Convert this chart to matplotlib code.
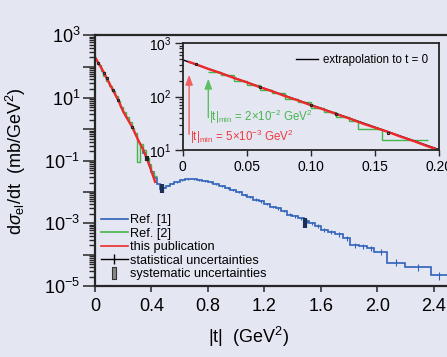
import numpy as np
import matplotlib
matplotlib.use('Agg')
import matplotlib.pyplot as plt
from matplotlib.lines import Line2D
from matplotlib.ticker import FixedLocator, LogLocator, FuncFormatter, NullFormatter

plt.rcParams['font.family'] = ['Liberation Sans', 'DejaVu Sans']
plt.rcParams['mathtext.fontset'] = 'custom'
plt.rcParams['mathtext.rm'] = 'Liberation Sans'
plt.rcParams['mathtext.it'] = 'Liberation Sans:italic'

# -- data
# main panel, this publication
red_t = [0.005, 0.024, 0.064, 0.083, 0.125, 0.165, 0.201, 0.265, 0.307, 0.343, 0.367, 0.39, 0.426]
red_y = [186, 132, 64.5, 42.7, 18.6, 8.5, 3.63, 1.15, 0.447, 0.219, 0.117, 0.063, 0.021]
red_mk_t = [0.024, 0.064, 0.083, 0.125, 0.165, 0.265]
red_mk_y = [132, 64.5, 42.7, 18.6, 8.5, 1.15]

# main panel, Ref. [2] (histogram)
green_edges = [0.02, 0.04, 0.06, 0.08, 0.10, 0.12, 0.14, 0.16, 0.18, 0.20, 0.22,
               0.24, 0.26, 0.28, 0.30, 0.32, 0.34, 0.36, 0.38, 0.40, 0.42, 0.44]
green_vals = [112, 74, 52, 35.5, 25, 16.6, 11.2, 8.3, 5.2, 3.5, 2.5,
              1.66, 1.12, 0.79, 0.089, 0.35, 0.22, 0.126, 0.071, 0.045, 0.032]

# main panel, Ref. [1] (histogram)
blue_edges = [0.32, 0.34, 0.36, 0.38, 0.40, 0.42, 0.44, 0.46, 0.48, 0.50, 0.53, 0.56,
              0.60, 0.64, 0.68, 0.72, 0.76, 0.80, 0.84, 0.88, 0.92, 0.96, 1.00, 1.04,
              1.08, 1.12, 1.16, 1.20, 1.24, 1.28, 1.32, 1.36, 1.40, 1.44, 1.48, 1.52,
              1.56, 1.60, 1.65, 1.70, 1.76, 1.81, 1.87, 1.93, 1.98, 2.07, 2.20, 2.38, 2.50]
blue_vals = [0.282, 0.178, 0.112, 0.0708, 0.0447, 0.0282, 0.0178, 0.0126, 0.0138, 0.0158,
             0.0182, 0.0209, 0.0234, 0.0251, 0.0251, 0.0240, 0.0224, 0.0204, 0.0178, 0.0155,
             0.0135, 0.0115, 0.00977, 0.00832, 0.00692, 0.00575, 0.00501, 0.00417, 0.00339,
             0.00302, 0.00251, 0.00191, 0.00166, 0.00145, 0.00117, 0.00102, 0.000832,
             0.000631, 0.000537, 0.000447, 0.000339, 0.000200, 0.000186, 0.000158,
             0.000123, 5.62e-5, 4.07e-5, 2.19e-5]
blue_relerr = [0.02, 0.02, 0.02, 0.02, 0.03, 0.03, 0.03, 0.04, 0.04, 0.04,
               0.04, 0.04, 0.04, 0.04, 0.04, 0.05, 0.05, 0.05, 0.05, 0.06,
               0.06, 0.06, 0.07, 0.07, 0.07, 0.08, 0.08, 0.08, 0.09, 0.09,
               0.10, 0.10, 0.11, 0.11, 0.12, 0.12, 0.13, 0.14, 0.15, 0.16,
               0.17, 0.18, 0.19, 0.20, 0.22, 0.25, 0.28, 0.30]

# systematic bars (t, low, high)
sys_t = [0.366, 0.473, 1.49]
sys_lo = [0.095, 0.0095, 0.00072]
sys_hi = [0.145, 0.0175, 0.00145]
sys_col = ['#222222', '#1c2f55', '#1c2f55']

# inset
in_red_t = [0.005, 0.01, 0.02, 0.03, 0.04, 0.05, 0.06, 0.07, 0.08, 0.09, 0.10,
            0.11, 0.12, 0.13, 0.14, 0.15, 0.16, 0.17, 0.18, 0.19, 0.197]
in_red_y = [447, 407, 331, 275, 224, 186, 151, 126, 102, 85, 69,
            57.5, 47, 39, 31.6, 26.3, 21.9, 17.8, 14.8, 12.0, 10.5]
in_mk_t = [0.01, 0.06, 0.10, 0.12, 0.16]
in_mk_y = [407, 151, 69, 47, 21.0]
in_green_edges = [0.02, 0.03, 0.04, 0.05, 0.06, 0.07, 0.08, 0.09, 0.10, 0.11, 0.12,
                  0.13, 0.137, 0.1555, 0.1917]
in_green_vals = [295, 251, 200, 166, 135, 115, 91, 78, 62, 52.5, 41.7, 35.5, 24.5, 15.1]
fit_t = [0.0, 0.2]
fit_y = [490, 10.2]

bg = '#e4e6f2'
c_blue = '#2f63b8'
c_green = '#43b649'
c_red = '#ec2a2c'
c_ax = '#262626'

fig = plt.figure(figsize=(4.47, 3.57), dpi=100, facecolor=bg)
ax = fig.add_axes([0.2125, 0.1989, 0.789, 0.702])
ax.set_facecolor('none')
ax.set_yscale('log')
ax.set_xlim(0, 2.5)
ax.set_ylim(1e-5, 1e3)

ax.stairs(blue_vals, blue_edges, color=c_blue, lw=1.2, baseline=None)
bc = 0.5 * (np.array(blue_edges[:-1]) + np.array(blue_edges[1:]))
bv = np.array(blue_vals)
ax.errorbar(bc[8:], bv[8:], yerr=bv[8:] * np.array(blue_relerr[8:]), fmt='none',
            ecolor=c_blue, elinewidth=0.8, capsize=0)
ax.stairs(green_vals, green_edges, color=c_green, lw=1.0, baseline=None)
ax.plot(red_t, red_y, color=c_red, lw=1.7)
ax.plot(red_mk_t, red_mk_y, ls='none', marker='s', ms=2.0, mfc='none', mec='#222222', mew=0.8)
for t, lo, hi, c in zip(sys_t, sys_lo, sys_hi, sys_col):
    ax.vlines(t, lo, hi, color=c, lw=3)

for s in ['left', 'bottom', 'top']:
    ax.spines[s].set_color(c_ax)
    ax.spines[s].set_linewidth(1.6)
ax.spines['right'].set_visible(False)

ax.yaxis.set_major_locator(FixedLocator([10.0 ** k for k in range(-5, 4)]))
ax.yaxis.set_minor_locator(LogLocator(base=10, subs=np.arange(2, 10), numticks=20))
ax.yaxis.set_major_formatter(FuncFormatter(
    lambda v, p: r'$\mathregular{10^{%d}}$' % round(np.log10(v)) if round(np.log10(v)) % 2 else ''))
ax.yaxis.set_minor_formatter(NullFormatter())
ax.set_xticks([0, 0.4, 0.8, 1.2, 1.6, 2.0, 2.4])
ax.set_xticklabels(['0', '0.4', '0.8', '1.2', '1.6', '2.0', '2.4'])
ax.tick_params(axis='y', which='major', length=8.5, width=1.1, color=c_ax, pad=2, labelsize=13)
ax.tick_params(axis='y', which='minor', length=4.3, width=1.0, color=c_ax)
ax.tick_params(axis='x', which='major', length=4.5, width=1.1, color=c_ax, pad=4, labelsize=13)

ax.set_xlabel(r'|t|  (GeV$^2$)', fontsize=13)
ax.xaxis.set_label_coords(0.434, -0.155)
ax.set_ylabel(r'd$\sigma_{\mathregular{el}}$/dt  (mb/GeV$^2$)', fontsize=13)
ax.yaxis.set_label_coords(-0.19, 0.5)

handles = [Line2D([], [], color=c_blue, lw=1.2),
           Line2D([], [], color=c_green, lw=1.2),
           Line2D([], [], color=c_red, lw=1.2),
           Line2D([], [], color='k', lw=1.0, marker='|', ms=7, mew=1.0),
           Line2D([], [], ls='none', marker=[(-1, -4), (1, -4), (1, 4), (-1, 4), (-1, -4)],
                  ms=9, mfc='#888888', mec='#333333', mew=0.8)]
labels = ['Ref. [1]', 'Ref. [2]', 'this publication', 'statistical uncertainties',
          'systematic uncertainties']
ax.legend(handles, labels, loc='lower left', bbox_to_anchor=(0.0, 0.0), frameon=False,
          fontsize=9.2, handlelength=2.1, handletextpad=0.2, labelspacing=0.12,
          borderaxespad=0.25, borderpad=0.2)

# -- inset
ins = fig.add_axes([0.4087, 0.5798, 0.5734, 0.2989])
ins.set_facecolor('none')
ins.set_yscale('log')
ins.set_xlim(0, 0.2)
ins.set_ylim(10, 1000)
ins.plot(fit_t, fit_y, color='k', lw=1.0, label='extrapolation to t = 0')
ins.stairs(in_green_vals, in_green_edges, color=c_green, lw=1.0, baseline=None)
ins.plot(in_red_t, in_red_y, color=c_red, lw=1.7)
ins.plot(in_mk_t, in_mk_y, ls='none', marker='s', ms=2.0, mfc='none', mec='#222222', mew=0.8)

ins.annotate('', xy=(0.005, 290), xytext=(0.005, 17.5),
             arrowprops=dict(arrowstyle='-|>,head_width=0.22,head_length=0.6', color='#f06060', lw=1.0))
ins.annotate('', xy=(0.02, 245), xytext=(0.02, 36),
             arrowprops=dict(arrowstyle='-|>,head_width=0.22,head_length=0.6', color='#5cbf60', lw=1.0))
ins.text(0.0205, 42, r'|t|$_{\mathregular{min}}$ = 2$\times$10$^{-2}$ GeV$^2$', color='#49b54e',
         fontsize=8.3, va='center', ha='left')
ins.text(0.0060, 17.5, r'|t|$_{\mathregular{min}}$ = 5$\times$10$^{-3}$ GeV$^2$', color='#ee3a3c',
         fontsize=8.3, va='center', ha='left')

for s in ins.spines.values():
    s.set_color(c_ax)
    s.set_linewidth(1.3)
ins.yaxis.set_major_locator(FixedLocator([10, 100, 1000]))
ins.yaxis.set_minor_locator(LogLocator(base=10, subs=np.arange(2, 10), numticks=20))
ins.yaxis.set_major_formatter(FuncFormatter(lambda v, p: r'$\mathregular{10^{%d}}$' % round(np.log10(v))))
ins.yaxis.set_minor_formatter(NullFormatter())
ins.set_xticks([0, 0.05, 0.10, 0.15, 0.20])
ins.set_xticklabels(['0', '0.05', '0.10', '0.15', '0.20'])
ins.tick_params(axis='y', which='major', length=6, width=1.0, color=c_ax, pad=2, labelsize=10)
ins.tick_params(axis='y', which='minor', length=3.2, width=0.9, color=c_ax)
ins.tick_params(axis='x', which='major', length=4, width=1.0, color=c_ax, pad=3, labelsize=10)
ins.legend(loc='upper right', frameon=False, fontsize=8.3, handlelength=1.9, handletextpad=0.45,
           borderaxespad=0.5)

fig.savefig('out.png', dpi=100, facecolor=bg)
